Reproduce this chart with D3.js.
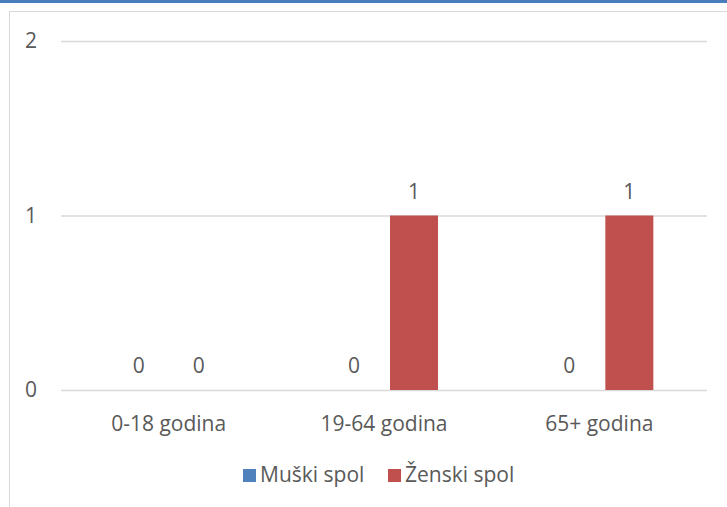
<!DOCTYPE html>
<html>
<head>
<meta charset="utf-8">
<script src="https://cdn.jsdelivr.net/npm/d3@7"></script>
<style>
  body { margin: 0; background: #fff; }
  svg { display: block; font-family: "Open Sans", sans-serif; }
</style>
</head>
<body>
<script>
// chart data
var categories = ["0-18 godina", "19-64 godina", "65+ godina"];
var seriesNames = ["Muški spol", "Ženski spol"];
var muski = [0, 0, 0];
var zenski = [0, 1, 1];
var yTicks = [0, 1, 2];

var colors = ["#4f81bd", "#c0504d"];
var width = 727, height = 507;
var textColor = "#595959";

var svg = d3.select("body").append("svg")
    .attr("width", width).attr("height", height);

// blue strip on top + chart frame
svg.append("rect").attr("x", 0).attr("y", 0).attr("width", width).attr("height", 3)
    .attr("fill", "#4a7ebb");
svg.append("rect").attr("x", 9.5).attr("y", 11.5).attr("width", width).attr("height", height)
    .attr("fill", "none").attr("stroke", "#d9d9d9").attr("stroke-width", 1);

var plot = {left: 61, right: 707, top: 41, bottom: 390};

var y = d3.scaleLinear().domain([0, 2]).range([plot.bottom, plot.top]);
var x0 = d3.scaleBand().domain(categories).range([plot.left, plot.right]);
var x1 = d3.scaleBand().domain(seriesNames).range([0, x0.bandwidth()])
    .paddingInner(0.2).paddingOuter(0.894);

// gridlines
var yAxis = d3.axisLeft(y).tickValues(yTicks).tickSize(-(plot.right - plot.left))
    .tickFormat(d3.format("d")).tickPadding(24);
var gy = svg.append("g").attr("transform", "translate(" + plot.left + ",0)").call(yAxis);
gy.select(".domain").remove();
gy.selectAll(".tick line").attr("stroke", "#d9d9d9").attr("stroke-width", 1.5);
gy.selectAll(".tick text").attr("fill", textColor).style("font-size", "21px")
    .style("font-family", "Open Sans");

var rows = categories.map(function(c, i) {
  return {cat: c, values: [{s: seriesNames[0], v: muski[i], k: 0}, {s: seriesNames[1], v: zenski[i], k: 1}]};
});

var groups = svg.append("g").selectAll("g").data(rows).enter().append("g")
    .attr("transform", function(d) { return "translate(" + x0(d.cat) + ",0)"; });

groups.selectAll("rect").data(function(d) { return d.values; }).enter().append("rect")
    .attr("x", function(d) { return x1(d.s); })
    .attr("y", function(d) { return y(d.v); })
    .attr("width", x1.bandwidth())
    .attr("height", function(d) { return y(0) - y(d.v); })
    .attr("fill", function(d) { return colors[d.k]; });

groups.selectAll("text.lbl").data(function(d) { return d.values; }).enter().append("text")
    .attr("class", "lbl")
    .attr("x", function(d) { return x1(d.s) + x1.bandwidth() / 2; })
    .attr("y", function(d) { return y(d.v) - 17; })
    .attr("text-anchor", "middle")
    .attr("fill", textColor).style("font-size", "21px")
    .text(function(d) { return d.v; });

// category labels
svg.append("g").selectAll("text").data(categories).enter().append("text")
    .attr("x", function(d) { return x0(d) + x0.bandwidth() / 2; })
    .attr("y", 431)
    .attr("text-anchor", "middle")
    .attr("fill", textColor).style("font-size", "21px")
    .text(function(d) { return d; });

// legend
var legendX = [243, 388];
var legend = svg.append("g").selectAll("g").data(seriesNames).enter().append("g")
    .attr("transform", function(d, i) { return "translate(" + legendX[i] + ",469)"; });
legend.append("rect").attr("width", 13).attr("height", 13)
    .attr("fill", function(d, i) { return colors[i]; });
legend.append("text").attr("x", 17).attr("y", 13)
    .attr("fill", textColor).style("font-size", "21px")
    .text(function(d) { return d; });
</script>
</body>
</html>
